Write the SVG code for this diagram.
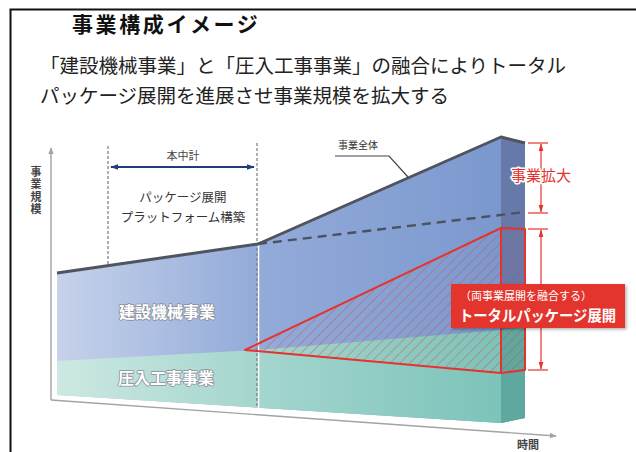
<svg xmlns="http://www.w3.org/2000/svg" width="636" height="452" viewBox="0 0 636 452">
<defs>
<style>
.jp{font-family:"Noto Sans CJK JP","Noto Sans CJK SC",sans-serif}
.title{font-size:21px;font-weight:bold;fill:#111}
.sub{font-size:19.5px;fill:#222}
.small{font-size:11px;fill:#444}
.mid{font-size:12.5px;fill:#333}
.seg{font-size:16px;font-weight:bold;fill:#fff;stroke:#8a8f99;stroke-width:1.6px;paint-order:stroke;stroke-linejoin:round}
.axis{stroke:#a3a3a3;stroke-width:1.4;fill:none}
.vdash{stroke:#7a7a7a;stroke-width:1.2;stroke-dasharray:3 2;fill:none}
.red{stroke:#e5322d;fill:none}
</style>
<linearGradient id="gBlue" gradientUnits="userSpaceOnUse" x1="57" y1="0" x2="501" y2="0">
<stop offset="0" stop-color="#c6d2eb"/><stop offset="0.45" stop-color="#93abd9"/><stop offset="1" stop-color="#7b98ce"/>
</linearGradient>
<linearGradient id="gTeal" gradientUnits="userSpaceOnUse" x1="57" y1="0" x2="501" y2="0">
<stop offset="0" stop-color="#cde8e2"/><stop offset="0.45" stop-color="#a4d6ce"/><stop offset="1" stop-color="#7cc3b9"/>
</linearGradient>
<pattern id="hatch" patternUnits="userSpaceOnUse" width="7" height="7" patternTransform="rotate(45)">
<line x1="0" y1="0" x2="0" y2="7" stroke="#d9473f" stroke-width="1.1" stroke-opacity="0.75"/>
</pattern>
<marker id="mGray" viewBox="0 0 10 10" refX="9" refY="5" markerWidth="7" markerHeight="7" orient="auto-start-reverse" markerUnits="userSpaceOnUse">
<path d="M0,1 L10,5 L0,9 Z" fill="#a3a3a3"/>
</marker>
<marker id="mNavy" viewBox="0 0 10 10" refX="9" refY="5" markerWidth="8" markerHeight="8" orient="auto-start-reverse" markerUnits="userSpaceOnUse">
<path d="M0,1.5 L10,5 L0,8.5 Z" fill="#1f3b78"/>
</marker>
<marker id="mRed" viewBox="0 0 10 10" refX="9" refY="5" markerWidth="8" markerHeight="8" orient="auto-start-reverse" markerUnits="userSpaceOnUse">
<path d="M0,2 L10,5 L0,8 Z" fill="#e5322d"/>
</marker>
<filter id="shadow" x="-10%" y="-20%" width="130%" height="150%">
<feDropShadow dx="1.5" dy="1.5" stdDeviation="1.5" flood-color="#000" flood-opacity="0.3"/>
</filter>
</defs>
<rect width="636" height="452" fill="#fff"/>
<path d="M10.5,452 L10.5,9.5 L636,9.5" stroke="#111" stroke-width="2" fill="none"/>

<g id="title">
<text class="jp title" x="72" y="32" letter-spacing="2.6">事業構成イメージ</text>
</g>
<g id="subtitle">
<text class="jp sub" x="40" y="73">「建設機械事業」と「圧入工事事業」の融合によりトータル</text>
<text class="jp sub" x="40" y="103">パッケージ展開を進展させ事業規模を拡大する</text>
</g>

<g id="axes">
<line class="axis" x1="51" y1="400" x2="51" y2="148" marker-end="url(#mGray)"/>
<line class="axis" x1="51" y1="400" x2="556" y2="436" marker-end="url(#mGray)"/>
<text class="jp small" x="36" y="166" writing-mode="vertical-rl" letter-spacing="1.5" font-weight="bold" fill="#555">事業規模</text>
<text class="jp small" x="528" y="449" text-anchor="middle" font-weight="bold" fill="#444">時間</text>
</g>

<g id="chart">
<polygon points="57,273 258,244 501,137 501,423 57,395" fill="url(#gBlue)"/>
<polygon points="57,361 258,350 501,330 501,423 57,395" fill="url(#gTeal)"/>
<polygon points="501,137 525,143 525,418 501,423" fill="#6679a8"/>
<polygon points="501,330 525,327 525,418 501,423" fill="#5ea8a0"/>
<line x1="258.5" y1="244" x2="258.5" y2="408" stroke="#fff" stroke-width="1.5"/>
<line class="vdash" x1="257" y1="143" x2="257" y2="408"/>
<line class="vdash" x1="108" y1="146" x2="108" y2="266"/>
<polyline points="57,273 258,244 501,137 525,143" fill="none" stroke="#4f545e" stroke-width="3" stroke-linejoin="round"/>
<line x1="258" y1="244" x2="525" y2="212" stroke="#4a5262" stroke-width="2.4" stroke-dasharray="9 6"/>
<text class="jp seg" x="167" y="318" text-anchor="middle">建設機械事業</text>
<text class="jp seg" x="166" y="384" text-anchor="middle">圧入工事事業</text>
</g>

<g id="total-package">
<polygon points="245,350 501,228 525,229 525,370 501,373" fill="url(#hatch)"/>
<polygon class="red" points="245,350 501,228 525,229 525,370 501,373" stroke-width="2" stroke-linejoin="round"/>
<line class="red" x1="501" y1="228" x2="501" y2="373" stroke-width="2"/>
</g>

<g id="midterm">
<line x1="111" y1="167" x2="254" y2="167" stroke="#1f3b78" stroke-width="2" marker-start="url(#mNavy)" marker-end="url(#mNavy)"/>
<text class="jp small" x="183" y="160" text-anchor="middle" fill="#1f3b78">本中計</text>
<text class="jp mid" x="183" y="202" text-anchor="middle">パッケージ展開</text>
<text class="jp mid" x="183" y="222" text-anchor="middle">プラットフォーム構築</text>
</g>

<g id="label-total">
<text class="jp" x="358" y="149" text-anchor="middle" font-size="10" fill="#333">事業全体</text>
<polyline points="335,156 389,156 408,177" fill="none" stroke="#444" stroke-width="1.2"/>
</g>

<g id="expansion">
<line class="red" x1="528" y1="143" x2="548" y2="143" stroke-width="1.2"/>
<line class="red" x1="528" y1="213" x2="548" y2="213" stroke-width="1.2"/>
<line class="red" x1="541" y1="144" x2="541" y2="212" stroke-width="1.2" marker-start="url(#mRed)" marker-end="url(#mRed)"/>
<text class="jp" x="541" y="181" text-anchor="middle" font-size="15" fill="#e5322d" stroke="#fff" stroke-width="3" paint-order="stroke" stroke-linejoin="round">事業拡大</text>
</g>

<g id="package-dim">
<line class="red" x1="528" y1="229" x2="548" y2="229" stroke-width="1.2"/>
<line class="red" x1="528" y1="370" x2="548" y2="370" stroke-width="1.2"/>
<line class="red" x1="541" y1="230" x2="541" y2="369" stroke-width="1.2" marker-start="url(#mRed)" marker-end="url(#mRed)"/>
</g>

<g id="package-box">
<rect x="451" y="284" width="174" height="44" fill="#e3352f" filter="url(#shadow)"/>
<text class="jp" x="460" y="300" font-size="11" fill="#fff">（両事業展開を融合する）</text>
<text class="jp" x="459" y="321" font-size="15" font-weight="bold" fill="#fff" textLength="157" lengthAdjust="spacingAndGlyphs">トータルパッケージ展開</text>
</g>
</svg>
